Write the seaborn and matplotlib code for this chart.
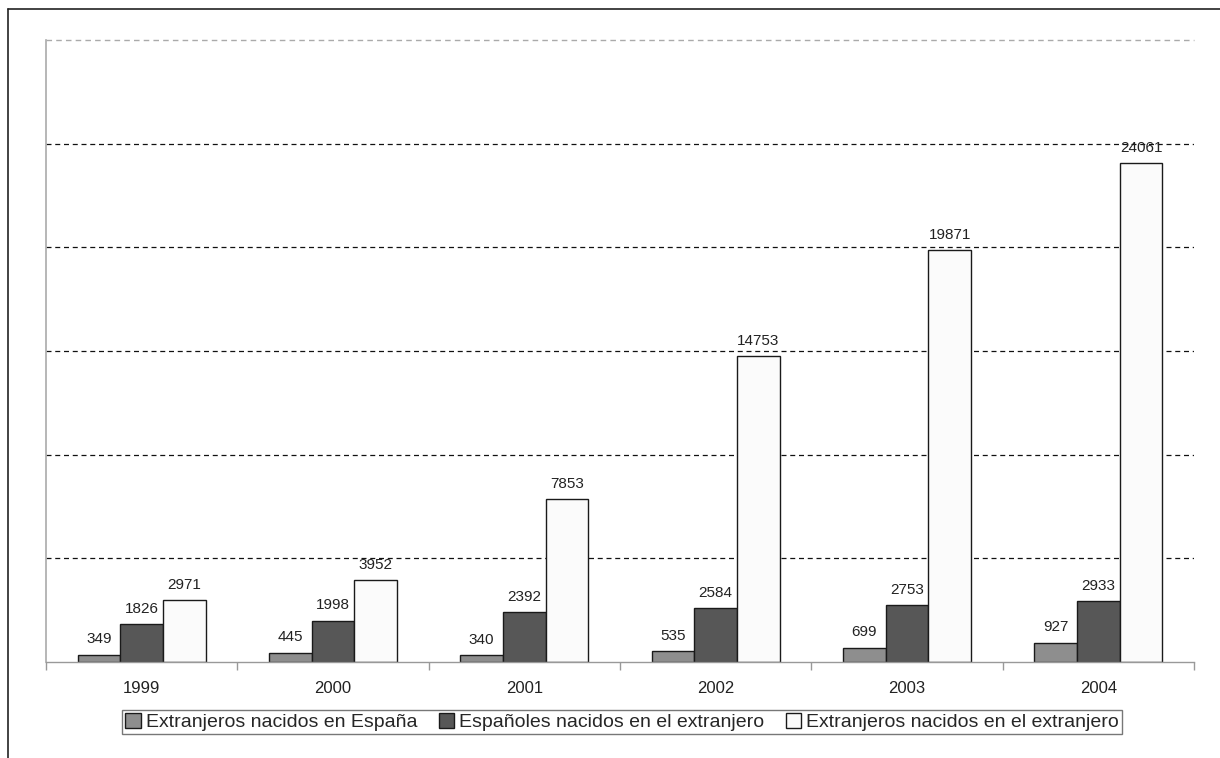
import pandas as pd
import matplotlib.pyplot as plt
import seaborn as sns
from matplotlib.lines import Line2D

sns.set_style("white")
plt.rcParams["font.family"] = ["Liberation Sans", "DejaVu Sans"]

years = ["1999", "2000", "2001", "2002", "2003", "2004"]
series = ["Extranjeros nacidos en España",
          "Españoles nacidos en el extranjero",
          "Extranjeros nacidos en el extranjero"]
ext_espana = [349, 445, 340, 535, 699, 927]
esp_extranjero = [1826, 1998, 2392, 2584, 2753, 2933]
ext_extranjero = [2971, 3952, 7853, 14753, 19871, 24061]

df = pd.DataFrame({
    "year": years * 3,
    "serie": [series[0]] * 6 + [series[1]] * 6 + [series[2]] * 6,
    "value": ext_espana + esp_extranjero + ext_extranjero,
})

fig = plt.figure(figsize=(12.2, 7.58), dpi=100)
ax = fig.add_axes([46 / 1220, 1 - 662 / 758, (1194 - 46) / 1220, (662 - 40) / 758])

sns.barplot(data=df, x="year", y="value", hue="serie", ax=ax,
            palette=["#8e8e8e", "#575757", "#fbfbfb"], edgecolor="#1a1a1a",
            linewidth=1.0, width=0.67, gap=0, saturation=1, legend=True)

for c in ax.containers:
    ax.bar_label(c, padding=6, fontsize=11, color="#222222")

ax.set_ylim(0, 30000)
ax.set_xlim(-0.5, 5.5)
ax.set_yticks([])
for v in [5000, 10000, 15000, 20000, 25000]:
    ax.axhline(v, color="#111111", ls=(0, (4, 3)), lw=0.9, zorder=0)
ax.axhline(30000, color="#aaaaaa", ls=(0, (4, 3)), lw=1.0, zorder=0, clip_on=False)

ax.set_xlabel("")
ax.set_ylabel("")
ax.set_xticks(range(6))
ax.set_xticklabels(years, fontsize=12, color="#222222")
ax.set_xticks([i - 0.5 for i in range(7)], minor=True)
ax.tick_params(axis="x", which="major", length=0, pad=14)
ax.tick_params(axis="x", which="minor", length=6, width=1, color="#999999", direction="out", bottom=True)

for s in ["top", "right"]:
    ax.spines[s].set_visible(False)
ax.spines["left"].set_color("#aaaaaa")
ax.spines["bottom"].set_color("#999999")
ax.spines["left"].set_linewidth(1.2)
ax.spines["bottom"].set_linewidth(1.0)

handles, labels = ax.get_legend_handles_labels()
ax.legend_.remove()
leg = fig.legend(handles, labels, loc="center", bbox_to_anchor=(622 / 1220, 1 - 722 / 758),
                 ncol=3, fontsize=14, frameon=True, fancybox=False, edgecolor="#555555",
                 handlelength=0.8, handleheight=0.8, handletextpad=0.25,
                 columnspacing=1.1, borderpad=0.15, borderaxespad=0)
leg.get_frame().set_linewidth(1.0)

# outer frame (top and left edges visible)
fig.add_artist(Line2D([8 / 1220, 1.0], [1 - 9 / 758, 1 - 9 / 758], color="#222222", lw=1.2))
fig.add_artist(Line2D([8 / 1220, 8 / 1220], [0, 1 - 9 / 758], color="#222222", lw=1.2))

plt.savefig("out.png", dpi=100)
